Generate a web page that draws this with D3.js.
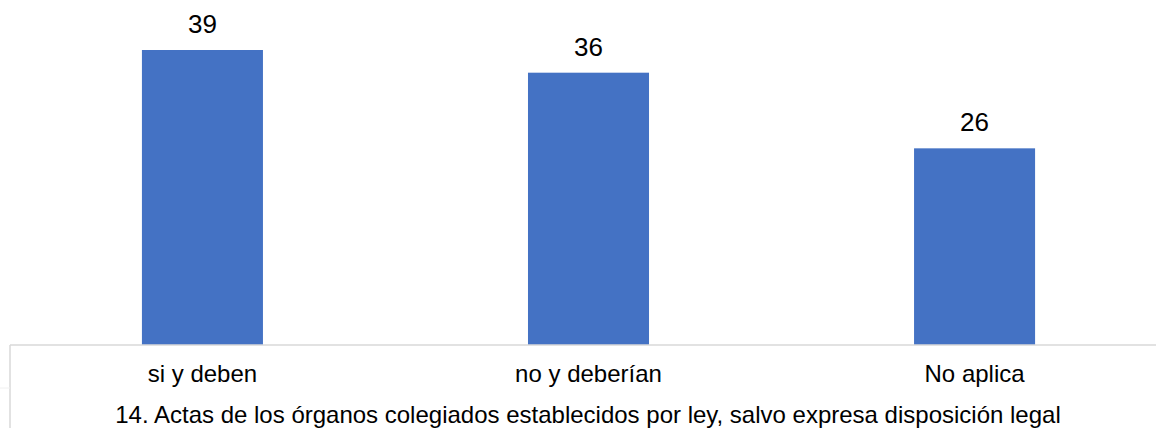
<!DOCTYPE html>
<html>
<head>
<meta charset="utf-8">
<script src="https://cdn.jsdelivr.net/npm/d3@7"></script>
<style>
  body { margin: 0; background: #fff; }
  svg { display: block; font-family: "Liberation Sans", Arial, sans-serif; }
</style>
</head>
<body>
<div class="container"></div>
<script>
const categories = ["si y deben", "no y deberían", "No aplica"];
const values = [39, 36, 26];
const groupTitle = "14. Actas de los órganos colegiados establecidos por ley, salvo expresa disposición legal";

const width = 1156, height = 428;
const baseY = 345;

const svg = d3.select(".container")
  .append("svg")
  .attr("width", width)
  .attr("height", height);

const x = d3.scaleBand()
  .domain(categories)
  .range([9.5, 1167.5])
  .paddingInner(0.6865)
  .paddingOuter(0.343);

const y = d3.scaleLinear()
  .domain([0, 39])
  .range([baseY, 50]);

const data = categories.map((c, i) => ({ cat: c, val: values[i] }));

// bars
svg.selectAll("rect.bar")
  .data(data)
  .enter()
  .append("rect")
  .attr("class", "bar")
  .attr("x", d => x(d.cat))
  .attr("y", d => y(d.val))
  .attr("width", x.bandwidth())
  .attr("height", d => y(0) - y(d.val))
  .attr("fill", "#4472C4");

// value labels
svg.selectAll("text.val")
  .data(data)
  .enter()
  .append("text")
  .attr("class", "val")
  .attr("x", d => x(d.cat) + x.bandwidth() / 2)
  .attr("y", d => y(d.val) - 17)
  .attr("text-anchor", "middle")
  .attr("font-size", 26)
  .attr("fill", "#000")
  .text(d => d.val);

// category axis frame
svg.append("line")
  .attr("x1", 10).attr("x2", width)
  .attr("y1", baseY).attr("y2", baseY)
  .attr("stroke", "#d9d9d9").attr("stroke-width", 1.5);
svg.append("line")
  .attr("x1", 10).attr("x2", 10)
  .attr("y1", baseY).attr("y2", height)
  .attr("stroke", "#d9d9d9").attr("stroke-width", 1.5);
svg.append("line")
  .attr("x1", 0).attr("x2", 10)
  .attr("y1", 388).attr("y2", 388)
  .attr("stroke", "#f0f0f0").attr("stroke-width", 1);

// category labels
svg.selectAll("text.cat")
  .data(categories)
  .enter()
  .append("text")
  .attr("class", "cat")
  .attr("x", d => x(d) + x.bandwidth() / 2)
  .attr("y", 382)
  .attr("text-anchor", "middle")
  .attr("font-size", 24)
  .attr("fill", "#000")
  .text(d => d);

// group title
svg.append("text")
  .attr("x", (10 + 1166) / 2)
  .attr("y", 423)
  .attr("text-anchor", "middle")
  .attr("font-size", 24)
  .attr("fill", "#000")
  .text(groupTitle);
</script>
</body>
</html>
